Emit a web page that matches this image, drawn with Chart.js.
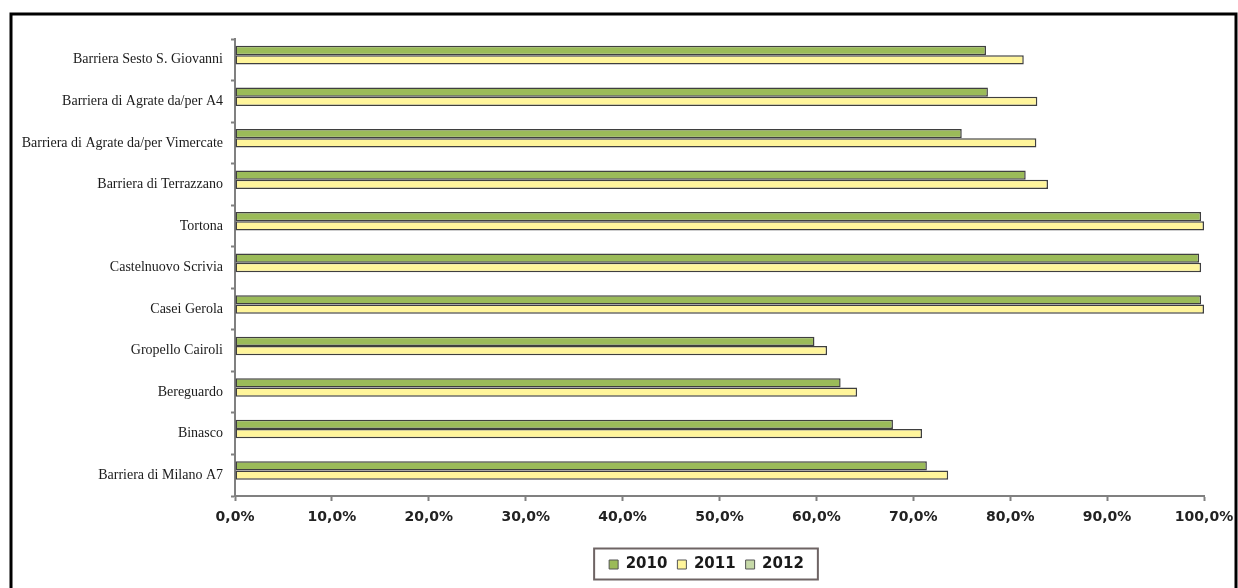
<!DOCTYPE html>
<html>
<head>
<meta charset="utf-8">
<script src="https://cdn.jsdelivr.net/npm/chart.js@4.4.0/dist/chart.umd.min.js"></script>
<style>
  html, body { margin: 0; padding: 0; background: #fff; }
</style>
</head>
<body>
<canvas id="chart" width="1238" height="588"></canvas>
<script>
// categories, top to bottom
const categories = [
  "Barriera Sesto S. Giovanni",
  "Barriera di Agrate da/per A4",
  "Barriera di Agrate da/per Vimercate",
  "Barriera di Terrazzano",
  "Tortona",
  "Castelnuovo Scrivia",
  "Casei Gerola",
  "Gropello Cairoli",
  "Bereguardo",
  "Binasco",
  "Barriera di Milano A7"
];

// percentages
const values2010 = [77.5, 77.7, 75.0, 81.6, 99.7, 99.5, 99.7, 59.8, 62.5, 67.9, 71.4];
const values2011 = [81.4, 82.8, 82.7, 83.9, 100, 99.7, 100, 61.1, 64.2, 70.9, 73.6];
const values2012 = [null, null, null, null, null, null, null, null, null, null, null];

const seriesLabels = ["2010", "2011", "2012"];
const seriesColors = ["#9bbb59", "#fff59b", "#c6d9a8"];

const axisColor = "#808080";

function fmtPct(v) {
  return v.toFixed(1).replace(".", ",") + "%";
}

// outer frame + box round the legend
const framePlugin = {
  id: "frame",
  afterLayout(chart) {
    // legend sits a bit left of the plot centre in the original
    const lg = chart.legend;
    const shift = (chart.chartArea.left + chart.chartArea.right) / 2 - 13 - (lg.left + lg.right) / 2;
    lg.left += shift;
    lg.right += shift;
  },
  beforeDraw(chart) {
    const ctx = chart.ctx;
    ctx.save();
    ctx.fillStyle = "#fff";
    ctx.fillRect(0, 0, chart.width, chart.height);
    ctx.restore();
  },
  afterDraw(chart) {
    const ctx = chart.ctx;
    ctx.save();
    ctx.strokeStyle = "#000";
    ctx.lineWidth = 3;
    ctx.strokeRect(11, 14, chart.width - 13, chart.height + 20);

    const hb = chart.legend.legendHitBoxes;
    if (hb && hb.length) {
      const first = hb[0];
      const last = hb[hb.length - 1];
      const cy = first.top + first.height / 2;
      ctx.strokeStyle = "#6e6464";
      ctx.lineWidth = 2;
      ctx.strokeRect(first.left - 15, cy - 16, last.left + last.width - first.left + 29, 31);
    }
    ctx.restore();
  }
};

new Chart(document.getElementById("chart"), {
  type: "bar",
  data: {
    labels: categories,
    datasets: [values2010, values2011, values2012].map((vals, i) => ({
      label: seriesLabels[i],
      data: vals,
      backgroundColor: seriesColors[i],
      borderColor: "#3f3f3f",
      borderWidth: 1.5,
      borderSkipped: false,
      categoryPercentage: 0.67,
      barPercentage: 1
    }))
  },
  options: {
    indexAxis: "y",
    responsive: false,
    animation: false,
    devicePixelRatio: 1,
    layout: {
      padding: { top: 39, right: 34, bottom: 6, left: 0 }
    },
    plugins: {
      legend: {
        position: "bottom",
        labels: {
          boxWidth: 9,
          boxHeight: 9,
          padding: 10,
          color: "#1a1a1a",
          font: { family: "DejaVu Sans", size: 15, weight: "bold" },
          generateLabels(chart) {
            return chart.data.datasets.map((ds, i) => ({
              text: ds.label,
              fillStyle: ds.backgroundColor,
              strokeStyle: "#555",
              lineWidth: 1,
              fontColor: "#1a1a1a",
              datasetIndex: i,
              hidden: false
            }));
          }
        }
      },
      tooltip: { enabled: false }
    },
    scales: {
      x: {
        min: 0,
        max: 100,
        ticks: {
          stepSize: 10,
          padding: 8,
          color: "#222",
          font: { family: "DejaVu Sans", size: 14, weight: "bold" },
          callback: (v) => fmtPct(v)
        },
        grid: {
          drawOnChartArea: false,
          tickLength: 5,
          color: axisColor,
          tickWidth: 2
        },
        border: { color: axisColor, width: 2 },
        afterFit(scale) {
          scale.height = 51;
          scale.paddingLeft = 0;
          scale.paddingRight = 0;
        }
      },
      y: {
        ticks: {
          padding: 8,
          color: "#1a1a1a",
          font: { family: "Liberation Serif", size: 14 }
        },
        grid: {
          drawOnChartArea: false,
          offset: true,
          tickLength: 4,
          color: axisColor,
          tickWidth: 2
        },
        border: { color: axisColor, width: 2 },
        afterFit(scale) {
          scale.width = 235;
        }
      }
    }
  },
  plugins: [framePlugin]
});
</script>
</body>
</html>
